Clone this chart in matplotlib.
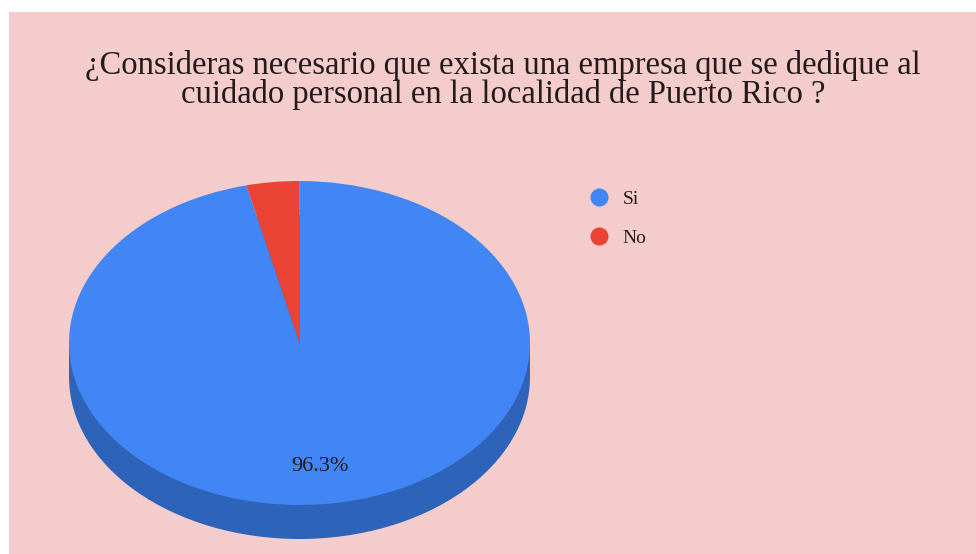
import matplotlib

matplotlib.use("Agg")
import matplotlib.pyplot as plt
from matplotlib.lines import Line2D
from matplotlib.patches import Ellipse, Rectangle

# Respuestas de la encuesta (n = 27)
labels = ["Si", "No"]
counts = [26, 1]
colors = ["#4285F4", "#EA4335"]
side_color = "#2E63BA"
bg = "#F4CCCC"
ink = "#231A1C"

title = ("¿Consideras necesario que exista una empresa que se dedique al\n"
         "cuidado personal en la localidad de Puerto Rico ?")

W, H = 976, 554
fig = plt.figure(figsize=(W / 100, H / 100), dpi=100)
fig.patch.set_facecolor("white")

# fondo rosado con el borde blanco a la izquierda y arriba
bg_ax = fig.add_axes([9 / W, 0, 1 - 9 / W, 1 - 12 / H])
bg_ax.set_facecolor(bg)
bg_ax.set_xticks([])
bg_ax.set_yticks([])
for s in bg_ax.spines.values():
    s.set_visible(False)

fig.text(503 / W, 1 - 80 / H, title, ha="center", va="center",
         fontsize=23.5, family="Liberation Serif", color=ink,
         linespacing=0.95)

# caja de la cara superior del pastel (en pixeles)
x0, x1 = 69, 530
y0, y1 = 181, 505
depth = 34
ry = (y1 - y0) / 2
ax = fig.add_axes([x0 / W, 1 - y1 / H, (x1 - x0) / W, (y1 - y0) / H])
ax.set_facecolor("none")

# costado 3D
d = depth / ry
ax.add_patch(Ellipse((0, -d), 2, 2, facecolor=side_color, edgecolor="none",
                     clip_on=False, zorder=0))
ax.add_patch(Rectangle((-1, -d), 2, d, facecolor=side_color, edgecolor="none",
                       clip_on=False, zorder=0))

wedges, _, autotexts = ax.pie(
    counts, colors=colors, startangle=90, counterclock=False,
    autopct=lambda p: f"{p:.1f}%" if p > 5 else "", pctdistance=0.77,
    wedgeprops=dict(linewidth=0),
    textprops=dict(family="Liberation Serif", fontsize=16, color=ink),
)
ax.set_aspect("auto")
ax.set_xlim(-1, 1)
ax.set_ylim(-1, 1)
ax.axis("off")

handles = [Line2D([], [], linestyle="none", marker="o", markersize=13,
                  markerfacecolor=c, markeredgecolor="none") for c in colors]
fig.legend(handles, labels, loc="upper left", bbox_to_anchor=(589 / W, 1 - 190 / H),
           frameon=False, borderpad=0, borderaxespad=0,
           handlelength=1.0, handletextpad=0.74, labelspacing=1.12,
           prop=dict(family="Liberation Serif", size=14), labelcolor=ink)

fig.savefig("out.png", dpi=100, facecolor=fig.get_facecolor())
